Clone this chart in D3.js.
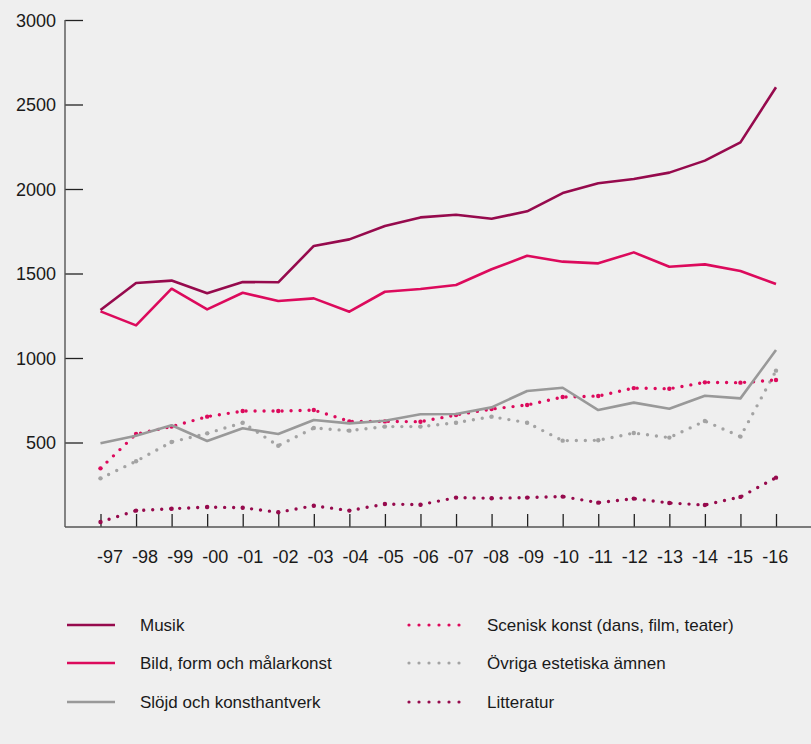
<!DOCTYPE html>
<html><head><meta charset="utf-8">
<script src="https://cdn.jsdelivr.net/npm/d3@7"></script>
<style>
html,body{margin:0;padding:0;background:#efefef;}
svg{display:block;}
</style></head>
<body>
<svg id="chart" width="811" height="744"></svg>
<script>
const years = ["-97","-98","-99","-00","-01","-02","-03","-04","-05","-06","-07","-08","-09","-10","-11","-12","-13","-14","-15","-16"];
const musik      = [1284,1444,1458,1383,1450,1448,1663,1702,1781,1832,1848,1824,1868,1976,2034,2059,2097,2168,2276,2602];
const bild       = [1276,1193,1410,1288,1386,1337,1353,1274,1392,1408,1432,1525,1605,1570,1560,1625,1540,1554,1515,1438];
const slojd      = [495,540,602,509,584,550,633,613,629,667,669,708,805,824,692,736,700,777,761,1047];
const scenisk    = [347,550,594,653,686,686,692,625,625,623,663,698,722,769,775,822,818,856,854,870];
const ovriga     = [288,389,503,554,617,481,586,570,594,594,617,653,617,511,513,556,529,627,535,925];
const litteratur = [30,97,108,118,114,87,126,97,136,132,174,170,174,180,144,168,142,130,178,292];
const yTicks = [500,1000,1500,2000,2500,3000];

const seriesNames = ["Musik","Bild, form och målarkonst","Slöjd och konsthantverk","Scenisk konst (dans, film, teater)","Övriga estetiska ämnen","Litteratur"];

const MAROON = "#960a4d", PINK = "#dc0a5c", GRAY = "#999999", LGRAY = "#a3a3a3";
const series = [
  {name: seriesNames[0], values: musik, color: MAROON, dotted: false},
  {name: seriesNames[1], values: bild, color: PINK, dotted: false},
  {name: seriesNames[2], values: slojd, color: GRAY, dotted: false},
  {name: seriesNames[3], values: scenisk, color: PINK, dotted: true},
  {name: seriesNames[4], values: ovriga, color: LGRAY, dotted: true},
  {name: seriesNames[5], values: litteratur, color: MAROON, dotted: true}
];

const svg = d3.select("#chart");
const axisX0 = 65, axisY0 = 527;
const x = d3.scalePoint().domain(years).range([100.5, 776]);
const y = d3.scaleLinear().domain([0, 3000]).range([527, 20]);

const FONT = "'Liberation Sans', Arial, sans-serif";

// Y axis
const gy = svg.append("g").attr("transform", `translate(${axisX0},0)`)
  .call(d3.axisLeft(y).tickValues(yTicks).tickSize(-18).tickPadding(9).tickFormat(d3.format("d")));
gy.select(".domain").remove();
gy.selectAll(".tick line").attr("stroke", "#222").attr("stroke-width", 1.3);
gy.selectAll(".tick text").attr("font-family", FONT).attr("font-size", 18).attr("fill", "#1a1a1a").attr("dy", "0.36em");

// X axis
const gx = svg.append("g").attr("transform", `translate(0,${axisY0})`)
  .call(d3.axisBottom(x).tickSize(-13).tickPadding(0));
gx.select(".domain").remove();
gx.selectAll(".tick line").attr("stroke", "#222").attr("stroke-width", 1.3);
const xt = gx.selectAll(".tick text").attr("font-family", FONT).attr("font-size", 18).attr("fill", "#1a1a1a")
  .attr("y", 36).attr("dy", 0);
// lay labels out sequentially with even gaps (as in the original)
{
  const nodes = xt.nodes();
  const widths = nodes.map(n => n.getComputedTextLength());
  const start = x(years[0]) - 4, end = x(years[years.length - 1]) + 11.7;
  const total = widths.reduce((a, b) => a + b, 0);
  const gap = (end - start - total) / (nodes.length - 1);
  let cur = start;
  nodes.forEach((n, i) => {
    const tickX = x(years[i]);
    d3.select(n).attr("text-anchor", "start").attr("x", cur - tickX);
    cur += widths[i] + gap;
  });
}

// axis lines
svg.append("line").attr("x1", axisX0).attr("x2", axisX0).attr("y1", y(3000)).attr("y2", axisY0)
  .attr("stroke", "#555").attr("stroke-width", 1.4);
svg.append("line").attr("x1", axisX0).attr("x2", 811).attr("y1", axisY0).attr("y2", axisY0)
  .attr("stroke", "#555").attr("stroke-width", 1.4);

// lines
const line = d3.line().x((d, i) => x(years[i])).y(d => y(d));
const drawOrder = [4, 3, 5, 2, 1, 0];
drawOrder.forEach(k => {
  const s = series[k];
  if (s.dotted) {
    svg.append("path").attr("d", line(s.values)).attr("fill", "none")
      .attr("stroke", s.color).attr("stroke-width", 3.4).attr("stroke-linecap", "round")
      .attr("stroke-dasharray", "0,9");
    svg.append("g").selectAll("circle").data(s.values).join("circle")
      .attr("cx", (d, i) => x(years[i])).attr("cy", d => y(d)).attr("r", 2.2).attr("fill", s.color);
  } else {
    svg.append("path").attr("d", line(s.values)).attr("fill", "none")
      .attr("stroke", s.color).attr("stroke-width", 2.6).attr("stroke-linejoin", "round");
  }
});

// legend
const legRows = [625, 663, 702];
series.forEach((s, i) => {
  const col = i < 3 ? 0 : 1;
  const yy = legRows[i % 3];
  const g = svg.append("g");
  if (!s.dotted) {
    g.append("line").attr("x1", 67).attr("x2", 115).attr("y1", yy).attr("y2", yy)
      .attr("stroke", s.color).attr("stroke-width", 2.6);
  } else {
    g.append("line").attr("x1", 409).attr("x2", 459.5).attr("y1", yy).attr("y2", yy)
      .attr("stroke", s.color).attr("stroke-width", 3.2).attr("stroke-linecap", "round")
      .attr("stroke-dasharray", "0,10");
  }
  g.append("text").attr("x", col === 0 ? 140 : 487).attr("y", yy + 6)
    .attr("font-family", FONT).attr("font-size", 17).attr("fill", "#1a1a1a").text(s.name);
});
</script>
</body></html>
